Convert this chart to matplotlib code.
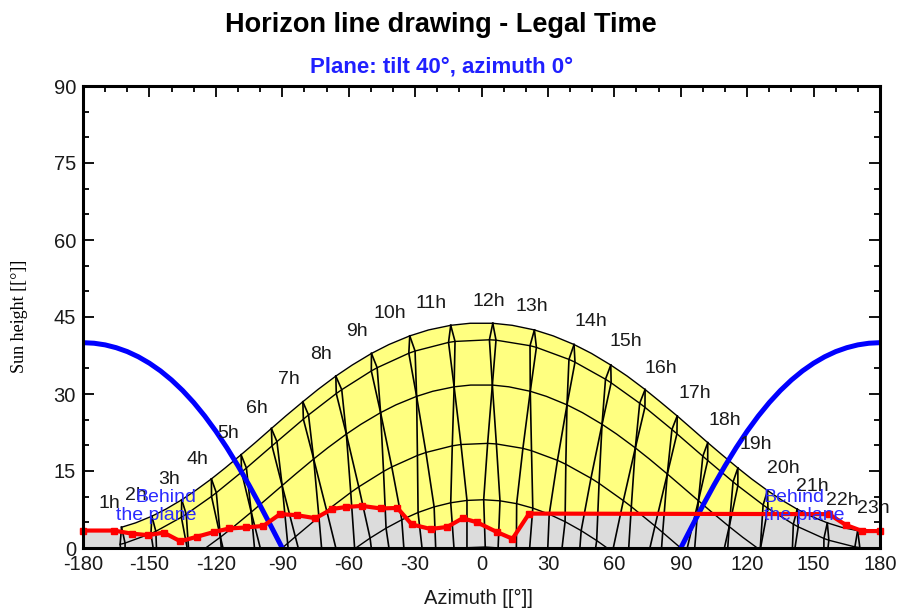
import numpy as np
import matplotlib
matplotlib.use("Agg")
import matplotlib.pyplot as plt

plt.rcParams['font.family'] = ['Liberation Sans', 'DejaVu Sans']
plt.rcParams['axes.unicode_minus'] = False

nan = np.nan

#-----------------------------------------
# sun position at each legal hour 1h..23h : azimuth [°], height [°]
# 22 June
junAz = [-162.6, -148.9, -135.4, -122.0, -108.6, -94.9, -80.7, -65.8, -49.7, -32.4, -13.9, 5.1,
         23.9, 41.8, 58.4, 73.9, 88.4, 102.2, 115.8, 129.2, 142.6, 156.2, 169.9]
junH = [4.04, 6.19, 9.39, 13.46, 18.17, 23.28, 28.49, 33.49, 37.90, 41.32, 43.38, 43.78,
        42.48, 39.64, 35.64, 30.87, 25.72, 20.52, 15.59, 11.19, 7.56, 4.90, 3.38]
# 22 May
mayAz = [-161.00, -147.10, -133.37, -119.78, -106.19, -92.39, -78.14, -63.13, -47.13, -30.01, -11.96, 6.55,
         24.80, 42.23, 58.55, 73.82, 88.27, 102.17, 115.80, 129.38, 143.06, 156.90, 170.90]
mayH = [0.96, 3.25, 6.58, 10.77, 15.58, 20.72, 25.92, 30.84, 35.12, 38.37, 40.24, 40.49,
        39.08, 36.20, 32.18, 27.41, 22.25, 17.06, 12.13, 7.73, 4.12, 1.51, 0.07]
# 23 July
julAz = [-163.23, -149.31, -135.56, -121.95, -108.37, -94.62, -80.46, -65.60, -49.77, -32.83, -14.89, 3.58,
         21.92, 39.51, 56.01, 71.45, 86.01, 99.97, 113.63, 127.20, 140.85, 154.67, 168.66]
julH = [0.71, 2.81, 5.99, 10.05, 14.78, 19.89, 25.10, 30.09, 34.49, 37.94, 40.05, 40.56,
        39.41, 36.74, 32.88, 28.20, 23.09, 17.88, 12.89, 8.39, 4.64, 1.86, 0.22]
# 20 April / 23 August
aprAz = [-160.96, -146.34, -132.01, -117.93, -104.01, -90.05, -75.81, -61.05, -45.58, -29.31, -12.37, 4.90,
         22.03, 38.62, 54.45, 69.49, 83.93, 97.98, 111.89, 125.87, 140.08, 154.59, 169.34]
aprH = [-7.89, -5.57, -2.16, 2.11, 6.98, 12.16, 17.34, 22.19, 26.37, 29.54, 31.40, 31.74,
        30.53, 27.89, 24.10, 19.50, 14.42, 9.21, 4.17, -0.40, -4.22, -7.03, -8.65]
# 20 March
marAz = [nan, nan, nan, -115.92, -101.64, -87.56, -73.44, -59.06, -44.25, -28.94, -13.20, 2.77,
         18.70, 34.31, 49.44, 64.08, 78.36, 92.44, 106.56, nan, nan, nan, nan]
marH = [nan, nan, nan, -9.23, -4.29, 0.91, 6.05, 10.82, 14.92, 18.03, 19.90, 20.38,
        19.41, 17.08, 13.59, 9.23, 4.29, -0.91, -6.05, nan, nan, nan, nan]
# 23 September
sepAz = [nan, nan, nan, -112.33, -98.16, -84.09, -69.93, -55.45, -40.52, -25.10, -9.27, 6.72,
         22.59, 38.09, 53.10, 67.67, 81.84, 95.91, 110.07, nan, nan, nan, nan]
sepH = [nan, nan, nan, -8.05, -3.02, 2.19, 7.27, 11.91, 15.79, 18.61, 20.16, 20.27,
        18.95, 16.31, 12.59, 8.05, 3.02, -2.19, -7.27, nan, nan, nan, nan]
# 21 February
febAz = [nan, nan, nan, nan, nan, -85.19, -71.26, -57.29, -43.11, -28.65, -13.90, 0.99,
         15.88, 30.59, 45.02, 59.16, 73.11, nan, nan, nan, nan, nan, nan]
febH = [nan, nan, nan, nan, nan, -9.95, -4.85, -0.15, 3.86, 6.92, 8.81, 9.40,
        8.64, 6.58, 3.38, -0.74, -5.51, nan, nan, nan, nan, nan, nan]
# 23 October
octAz = [nan, nan, nan, nan, nan, -78.31, -64.39, -50.33, -36.01, -21.40, -6.56, 8.35,
         23.17, 37.75, 52.03, 66.06, 79.98, nan, nan, nan, nan, nan, nan]
octH = [nan, nan, nan, nan, nan, -7.40, -2.46, 1.93, 5.50, 8.01, 9.27, 9.19,
        7.77, 5.13, 1.45, -3.03, -8.02, nan, nan, nan, nan, nan, nan]
# 19 January
janAz = [nan, nan, nan, nan, nan, nan, nan, nan, -40.15, -26.34, -12.38, 1.69,
         15.74, 29.68, 43.44, nan, nan, nan, nan, nan, nan, nan, nan]
janH = [nan, nan, nan, nan, nan, nan, nan, nan, -4.88, -2.02, -0.29, 0.19,
        -0.60, -2.61, -5.72, nan, nan, nan, nan, nan, nan, nan, nan]
# 22 November
novAz = [nan, nan, nan, nan, nan, nan, nan, -47.81, -34.46, -20.59, -6.57, 7.50,
         21.52, 35.38, 49.09, nan, nan, nan, nan, nan, nan, nan, nan]
novH = [nan, nan, nan, nan, nan, nan, nan, -6.92, -3.58, -1.16, 0.06, 0.02,
        -1.29, -3.78, -7.28, nan, nan, nan, nan, nan, nan, nan, nan]

# full day path of 22 June (outline of the yellow area)
junCurveAz = [-162.6, -156.2, -148.9, -142.6, -135.4, -129.2, -122.0, -115.8, -108.6, -102.2, -94.9,
              -88.4, -80.7, -73.9, -65.8, -58.4, -49.7, -41.8, -32.4, -23.9, -13.9, -5.1, 5.1, 13.9,
              23.9, 32.4, 41.8, 49.7, 58.4, 65.8, 73.9, 80.7, 88.4, 94.9, 102.2, 108.6, 115.8, 122.0,
              129.2, 135.4, 142.6, 148.9, 156.2, 162.6, 169.9]
junCurveH = [4.04, 4.90, 6.19, 7.56, 9.39, 11.19, 13.46, 15.59, 18.17, 20.52, 23.28,
             25.72, 28.49, 30.87, 33.49, 35.64, 37.90, 39.64, 41.32, 42.48, 43.38, 43.78, 43.78, 43.38,
             42.48, 41.32, 39.64, 37.90, 35.64, 33.49, 30.87, 28.49, 25.72, 23.28, 20.52, 18.17, 15.59, 13.46,
             11.19, 9.39, 7.56, 6.19, 4.90, 4.04, 3.38]
# full day path of 20 April
aprCurveAz = [-132.01, -125.87, -117.93, -111.89, -104.01, -97.98, -90.05, -83.93, -75.81, -69.49,
              -61.05, -54.45, -45.58, -38.62, -29.31, -22.03, -12.37, -4.90, 4.90, 12.37, 22.03,
              29.31, 38.62, 45.58, 54.45, 61.05, 69.49, 75.81, 83.93, 90.05, 97.98, 104.01, 111.89,
              117.93, 125.87, 132.01]
aprCurveH = [-2.16, -0.40, 2.11, 4.17, 6.98, 9.21, 12.16, 14.42, 17.34, 19.50,
             22.19, 24.10, 26.37, 27.89, 29.54, 30.53, 31.40, 31.74, 31.74, 31.40, 30.53,
             29.54, 27.89, 26.37, 24.10, 22.19, 19.50, 17.34, 14.42, 12.16, 9.21, 6.98, 4.17,
             2.11, -0.40, -2.16]

# far horizon line
horAz = [-180, -166, -158, -150.5, -143.5, -136, -128.5, -121, -114, -106.5, -98.5, -91, -83.5,
         -75, -67.5, -61, -54, -45.5, -38, -31.5, -23, -15.5, -8.5, -2, 7, 14, 21.5, 157,
         164.5, 172, 180]
horH = [3.4, 3.4, 2.8, 2.5, 3.0, 1.3, 2.2, 3.1, 3.8, 4.0, 4.3, 6.6, 6.4,
        5.8, 7.6, 8.0, 8.2, 7.7, 7.8, 4.6, 3.7, 4.1, 5.8, 5.0, 3.1, 1.8, 6.7, 6.6,
        4.5, 3.3, 3.3]

# limit where the sun goes behind the plane (tilt 40°, azimuth 0°)
behindAzL = [-180, -175, -170, -165, -160, -155, -150, -145, -140, -135, -130, -125, -120,
             -115, -110, -105, -100, -95, -90]
behindHL = [40.0, 39.89, 39.57, 39.02, 38.26, 37.25, 36.00, 34.50, 32.73, 30.68, 28.34, 25.70,
            22.76, 19.52, 16.01, 12.25, 8.29, 4.18, 0.0]
behindAzR = [90, 95, 100, 105, 110, 115, 120, 125, 130, 135, 140, 145, 150, 155, 160, 165,
             170, 175, 180]
behindHR = [0.0, 4.18, 8.29, 12.25, 16.01, 19.52, 22.76, 25.70, 28.34, 30.68, 32.73, 34.50,
            36.00, 37.25, 38.26, 39.02, 39.57, 39.89, 40.0]

# hour labels and where they sit
hourLabels = ["%dh" % h for h in range(1, 24)]
hourLblAz = [-168.2, -156.3, -141.2, -128.4, -114.5, -101.3, -87.0, -72.7, -56.1, -41.6, -23.0, 3.3,
             22.5, 49.2, 65.4, 80.8, 96.3, 109.8, 123.8, 136.5, 149.4, 162.9, 177.2]
hourLblH = [8.6, 10.3, 13.4, 17.3, 22.3, 27.2, 32.9, 37.6, 42.1, 45.7, 47.7, 48.0,
            47.0, 44.1, 40.2, 35.0, 30.1, 24.9, 20.1, 15.5, 11.9, 9.35, 7.7]

#-----------------------------------------
fig = plt.figure(figsize=(8.97, 6.10), dpi=100)
ax = fig.add_axes([83 / 897, 62 / 610, 797 / 897, 462 / 610])

# yellow area under the 22 June path, grey area under the horizon
ax.fill_between(junCurveAz, 0, junCurveH, color='#ffff80', lw=0, zorder=1)
ax.fill_between(horAz, 0, horH, color='#dcdcdc', lw=0, zorder=2)

# daily paths
lineStyle = dict(color='black', lw=1.0, zorder=3)
ax.plot(junCurveAz, junCurveH, **lineStyle)
ax.plot(aprCurveAz, aprCurveH, **lineStyle)
for azA, hA, azB, hB in [(mayAz, mayH, julAz, julH), (marAz, marH, sepAz, sepH),
                         (febAz, febH, octAz, octH), (janAz, janH, novAz, novH)]:
    az = np.concatenate([azA, azB])
    h = np.concatenate([hA, hB])
    ok = ~np.isnan(az)
    order = np.argsort(az[ok])
    ax.plot(az[ok][order], h[ok][order], **lineStyle)

# hour lines: first half of the year and second half of the year
firstHalf = [(junAz, junH), (mayAz, mayH), (aprAz, aprH), (marAz, marH), (febAz, febH), (janAz, janH)]
secondHalf = [(junAz, junH), (julAz, julH), (aprAz, aprH), (sepAz, sepH), (octAz, octH), (novAz, novH)]
for i in range(len(hourLabels)):
    for half in (firstHalf, secondHalf):
        ax.plot([d[0][i] for d in half], [d[1][i] for d in half], color='black', lw=1.2, zorder=3)

# behind the plane limits
ax.plot(behindAzL, behindHL, color='#0000ff', lw=3.6, zorder=4, solid_capstyle='butt')
ax.plot(behindAzR, behindHR, color='#0000ff', lw=3.6, zorder=4, solid_capstyle='butt')

# horizon line
ax.plot(horAz, horH, color='#ff0000', lw=3.0, marker='s', markersize=4, zorder=5, clip_on=False)

# hour labels
for lbl, x, y in zip(hourLabels, hourLblAz, hourLblH):
    ax.text(x, y, lbl, fontsize=14, color='#1a1a1a', ha='center', va='center', zorder=6)

ax.text(-128.6, 8.1, "Behind\nthe plane", fontsize=14, color='#2b2bff', ha='right', va='center',
        multialignment='right', linespacing=1.05, zorder=6)
ax.text(127.4, 8.1, "Behind\nthe plane", fontsize=14, color='#2b2bff', ha='left', va='center',
        multialignment='left', linespacing=1.05, zorder=6)

# axes
ax.set_xlim(-180, 180)
ax.set_ylim(0, 90)
ax.set_xticks(np.arange(-180, 181, 30))
ax.set_yticks(np.arange(0, 91, 15))
ax.set_xticks(np.arange(-180, 181, 10), minor=True)
ax.set_yticks(np.arange(0, 91, 5), minor=True)
ax.tick_params(which='both', direction='in', top=True, right=True, width=1.3, color='black')
ax.tick_params(which='major', length=8, labelsize=14.5, labelcolor='#1a1a1a', pad=5)
ax.tick_params(which='minor', length=4)
for s in ax.spines.values():
    s.set_linewidth(2.2)
    s.set_zorder(7)

# texts
fig.text(441 / 897, 1 - 25 / 610, "Horizon line drawing - Legal Time", fontsize=19.5, fontweight='bold',
         ha='center', va='center')
fig.text(442 / 897, 1 - 67 / 610, "Plane: tilt 40°, azimuth 0°", fontsize=16, fontweight='bold',
         color='#2020ff', ha='center', va='center')
fig.text(478 / 897, 1 - 598 / 610, "Azimuth [[°]]", fontsize=14.5, color='#1a1a1a', ha='center', va='center')
fig.text(20 / 897, 1 - 316 / 610, "Sun height [[°]]", fontsize=13, family='Liberation Serif',
         rotation=90, ha='center', va='center')

fig.savefig("out.png", dpi=100)
